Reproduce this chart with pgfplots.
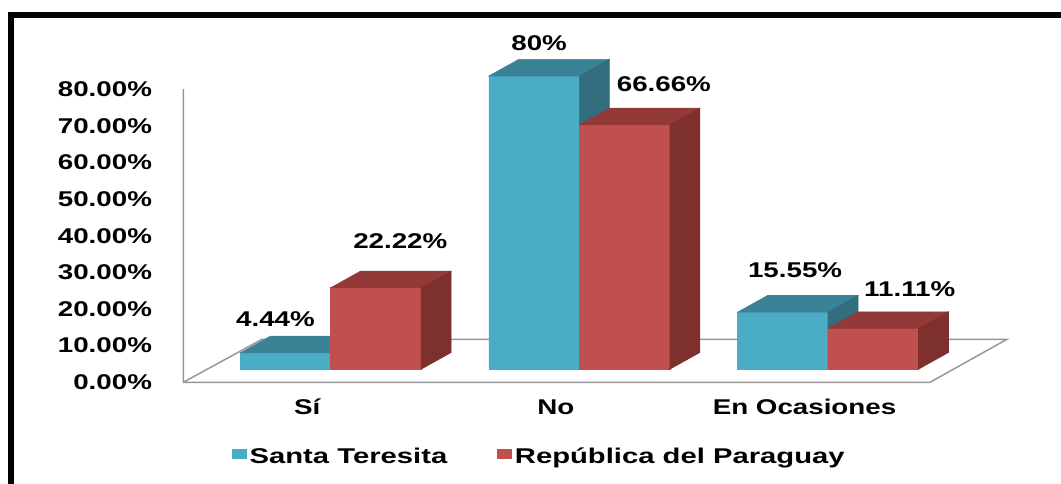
\documentclass[border=0pt]{standalone}
\usepackage{fontspec}
\setmainfont{Liberation Sans}[FakeStretch=1.3]
\newfontfamily\legfont{Liberation Sans}[FakeStretch=1.37]
\usepackage{pgfplots}
\pgfplotsset{compat=1.18}
\usepackage{pgfplotstable}
\definecolor{stFront}{RGB}{75,172,198}
\definecolor{stTop}{RGB}{58,131,151}
\definecolor{stSide}{RGB}{50,110,126}
\definecolor{rpFront}{RGB}{192,80,77}
\definecolor{rpTop}{RGB}{147,58,56}
\definecolor{rpSide}{RGB}{125,48,46}
\definecolor{lineGray}{RGB}{150,150,150}
\pgfdeclareplotmark{empty}{}
\newcommand\lab{\fontsize{16}{19}\selectfont\bfseries}
\newcommand\leg{\legfont\fontsize{16}{19}\selectfont\bfseries}
\pgfplotstableread{
x st rp
0 4.44 22.22
1 80 66.66
2 15.55 11.11
}\datatable
\pgfplotsset{
  bar3d/.style n args={5}{scatter, only marks, mark=empty, forget plot,
    visualization depends on={\thisrow{#5} \as \barh},
    scatter/@pre marker code/.code={%
      \pgfmathsetmacro\hp{\barh*2.74875}%
      \fill[#2] (#1-33.9375pt,-\hp pt) rectangle (#1+33.9375pt,0pt);
      \fill[#3] (#1-33.9375pt,0pt) -- ++(22.5pt,12.525pt) -- ++(67.875pt,0pt) -- ++(-22.5pt,-12.525pt) -- cycle;
      \fill[#4] (#1+33.9375pt,0pt) -- ++(22.5pt,12.525pt) -- ++(0pt,-\hp pt) -- ++(-22.5pt,-12.525pt) -- cycle;
    },
    scatter/@post marker code/.code={}},
  sqlegend/.style={legend image code/.code={\fill[##1,draw=none] (0pt,-0.2em) rectangle (11.25pt,0.55em);}}
}
\begin{document}
\begin{tikzpicture}
\useasboundingbox (0,0) rectangle (795.75pt,363pt);
\draw[line width=4.5pt] (7.875pt,-20pt) -- (7.875pt,351.75pt) -- (820pt,351.75pt);
\begin{axis}[
  at={(137.475pt,76.275pt)}, anchor=south west,
  x=186.4875pt, y=2.74875pt,
  xmin=-0.5928, xmax=2.4102, ymin=-3.574, ymax=76.43,
  clip=false,
  axis line style={draw=none}, major tick style={draw=none}, major tick length=0pt,
  xtick={0,1,2}, xticklabels={Sí,No,En Ocasiones},
  ytick={-3.574,6.426,16.426,26.426,36.426,46.426,56.426,66.426,76.426},
  yticklabels={0.00\%,10.00\%,20.00\%,30.00\%,40.00\%,50.00\%,60.00\%,70.00\%,80.00\%},
  xticklabel style={font=\lab, anchor=base, inner sep=0pt, xshift=-17.6pt, yshift=-24.5pt},
  yticklabel style={font=\lab, anchor=east, inner sep=0pt, xshift=-23.3pt},
  legend columns=2,
  legend style={at={(0.0648,-0.253)}, anchor=west, draw=none, fill=none, inner sep=0pt, font=\leg,
    /tikz/every even column/.append style={column sep=35.5pt}},
]
\addplot[lineGray, line width=1.1pt, forget plot, mark=none] coordinates {
  (-0.5928,76.426) (-0.5928,-3.574) (2.4102,-3.574) (2.7199,8.158) (-0.2763,8.158) (-0.5928,-3.574)};
\addplot[ybar, bar width=67.875pt, bar shift=-33.9375pt, fill=stFront, draw=none, sqlegend] table[x=x,y=st]{\datatable};
\addlegendentry{Santa Teresita}
\addplot[ybar, bar width=67.875pt, bar shift=33.9375pt, fill=rpFront, draw=none, sqlegend] table[x=x,y=rp]{\datatable};
\addlegendentry{República del Paraguay}
\addplot[bar3d={-33.9375pt}{stFront}{stTop}{stSide}{st}] table[x=x,y=st]{\datatable};
\addplot[bar3d={33.9375pt}{rpFront}{rpTop}{rpSide}{rp}] table[x=x,y=rp]{\datatable};
\node[font=\lab, xshift=-41.4pt, yshift=25.4pt] at (axis cs:0,4.44) {4.44\%};
\node[font=\lab, xshift=52.2pt, yshift=35.1pt] at (axis cs:0,22.22) {22.22\%};
\node[font=\lab, xshift=-30.2pt, yshift=24.75pt] at (axis cs:1,80) {80\%};
\node[font=\lab, xshift=63.4pt, yshift=30.2pt] at (axis cs:1,66.66) {66.66\%};
\node[font=\lab, xshift=-24.7pt, yshift=31.3pt] at (axis cs:2,15.55) {15.55\%};
\node[font=\lab, xshift=61.3pt, yshift=29.25pt] at (axis cs:2,11.11) {11.11\%};
\end{axis}
\end{tikzpicture}
\end{document}
